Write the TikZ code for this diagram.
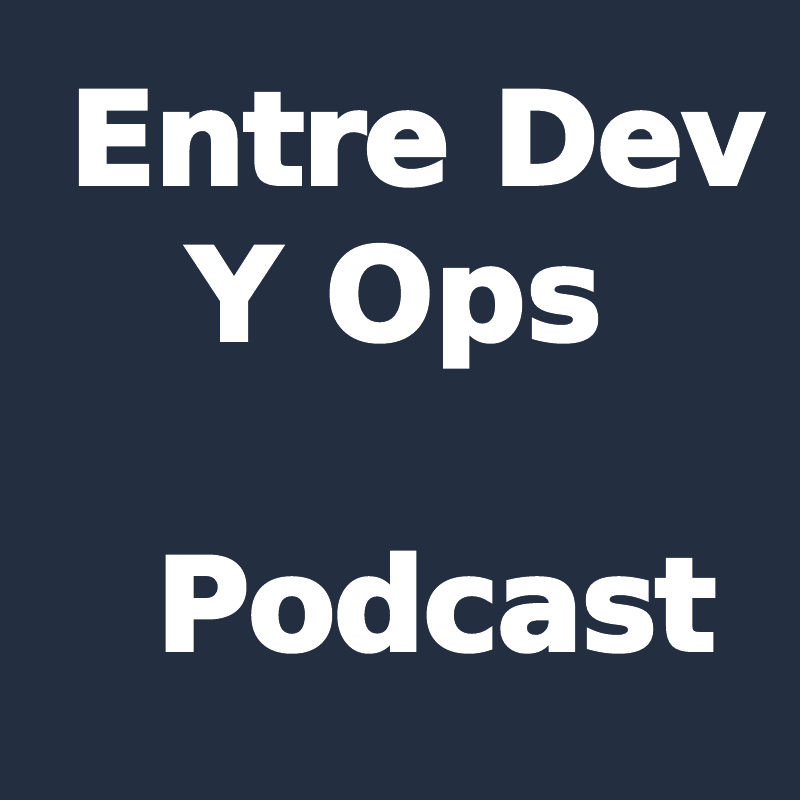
\documentclass[tikz,border=0pt]{standalone}
\usepackage{fontspec}
\setmainfont{DejaVu Sans}[BoldFeatures={FakeBold=3}]
\definecolor{navy}{RGB}{35,47,64}

\begin{document}
\begin{tikzpicture}[title/.style={white, font=\bfseries\fontsize{36.5pt}{42pt}\selectfont, inner sep=0, anchor=base},
		tight/.style={font=\bfseries\fontsize{36.5pt}{42pt}\selectfont\addfontfeatures{LetterSpace=-1.8}}]
		
		\fill [navy] (0,0) rectangle (8,8);
		\useasboundingbox (0,0) rectangle (8,8);
		
		\node [title, tight] (entre) at (4.17, 6.16) {Entre Dev};
		\node [title] (yops) at (3.95, 4.60) {Y Ops};
		\node [title, tight] (podcast) at (4.36, 1.50) {Podcast};
	\end{tikzpicture}
\end{document}
